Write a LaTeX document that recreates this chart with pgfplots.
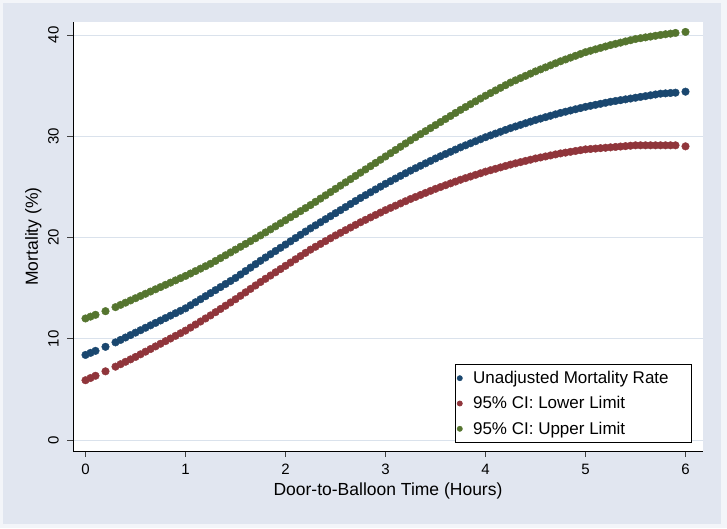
\documentclass[border=0pt]{standalone}
\usepackage{pgfplots}
\pgfplotsset{compat=1.18}
\usepackage{pgfplotstable}
\usepackage{fontspec}
\setmainfont{Liberation Sans}
\definecolor{bgc}{RGB}{225,230,240}
\definecolor{gridc}{RGB}{218,226,236}
\definecolor{snavy}{RGB}{26,71,111}
\definecolor{smaroon}{RGB}{144,53,59}
\definecolor{sgreen}{RGB}{85,117,47}
\pgfplotstableread{
x B R G
0 8.4 5.9 12.0
0.05 8.6 6.12 12.18
0.1 8.8 6.34 12.36
0.2 9.2 6.78 12.72
0.3 9.64 7.24 13.12
0.35 9.88 7.48 13.34
0.4 10.12 7.72 13.56
0.45 10.36 7.96 13.78
0.5 10.6 8.2 14.0
0.55 10.84 8.46 14.22
0.6 11.08 8.72 14.44
0.65 11.32 8.98 14.66
0.7 11.56 9.24 14.88
0.75 11.8 9.5 15.1
0.8 12.04 9.76 15.32
0.85 12.28 10.02 15.54
0.9 12.52 10.28 15.76
0.95 12.76 10.54 15.98
1.0 13.0 10.8 16.2
1.05 13.3 11.1 16.44
1.1 13.6 11.4 16.68
1.15 13.9 11.7 16.92
1.2 14.2 12.0 17.16
1.25 14.5 12.3 17.4
1.3 14.8 12.62 17.68
1.35 15.1 12.94 17.96
1.4 15.4 13.26 18.24
1.45 15.7 13.58 18.52
1.5 16.0 13.9 18.8
1.55 16.34 14.24 19.08
1.6 16.68 14.58 19.36
1.65 17.02 14.92 19.64
1.7 17.36 15.26 19.92
1.75 17.7 15.6 20.2
1.8 18.02 15.92 20.5
1.85 18.34 16.24 20.8
1.9 18.66 16.56 21.1
1.95 18.98 16.88 21.4
2.0 19.3 17.2 21.7
2.05 19.62 17.52 22.0
2.1 19.94 17.84 22.3
2.15 20.26 18.16 22.6
2.2 20.58 18.48 22.9
2.25 20.9 18.8 23.2
2.3 21.2 19.08 23.52
2.35 21.5 19.36 23.84
2.4 21.8 19.64 24.16
2.45 22.1 19.92 24.48
2.5 22.4 20.2 24.8
2.55 22.7 20.46 25.12
2.6 23.0 20.72 25.44
2.65 23.3 20.98 25.76
2.7 23.6 21.24 26.08
2.75 23.9 21.5 26.4
2.8 24.18 21.74 26.72
2.85 24.46 21.98 27.04
2.9 24.74 22.22 27.36
2.95 25.02 22.46 27.68
3.0 25.3 22.7 28.0
3.05 25.56 22.92 28.32
3.1 25.82 23.14 28.64
3.15 26.08 23.36 28.96
3.2 26.34 23.58 29.28
3.25 26.6 23.8 29.6
3.3 26.84 24.0 29.9
3.35 27.08 24.2 30.2
3.4 27.32 24.4 30.5
3.45 27.56 24.6 30.8
3.5 27.8 24.8 31.1
3.55 28.02 24.98 31.4
3.6 28.24 25.16 31.7
3.65 28.46 25.34 32.0
3.7 28.68 25.52 32.3
3.75 28.9 25.7 32.6
3.8 29.1 25.86 32.88
3.85 29.3 26.02 33.16
3.9 29.5 26.18 33.44
3.95 29.7 26.34 33.72
4.0 29.9 26.5 34.0
4.05 30.08 26.64 34.26
4.1 30.26 26.78 34.52
4.15 30.44 26.92 34.78
4.2 30.62 27.06 35.04
4.25 30.8 27.2 35.3
4.3 30.96 27.32 35.52
4.35 31.12 27.44 35.74
4.4 31.28 27.56 35.96
4.45 31.44 27.68 36.18
4.5 31.6 27.8 36.4
4.55 31.74 27.9 36.6
4.6 31.88 28.0 36.8
4.65 32.02 28.1 37.0
4.7 32.16 28.2 37.2
4.75 32.3 28.3 37.4
4.8 32.42 28.38 37.58
4.85 32.54 28.46 37.76
4.9 32.66 28.54 37.94
4.95 32.78 28.62 38.12
5.0 32.9 28.7 38.3
5.05 33.0 28.74 38.44
5.1 33.1 28.78 38.58
5.15 33.2 28.82 38.72
5.2 33.3 28.86 38.86
5.25 33.4 28.9 39.0
5.3 33.48 28.94 39.12
5.35 33.56 28.98 39.24
5.4 33.64 29.02 39.36
5.45 33.72 29.06 39.48
5.5 33.8 29.1 39.6
5.55 33.88 29.1 39.68
5.6 33.96 29.1 39.76
5.65 34.04 29.1 39.84
5.7 34.12 29.1 39.92
5.75 34.2 29.1 40.0
5.8 34.23 29.1 40.07
5.85 34.27 29.1 40.13
5.9 34.3 29.1 40.2
6.0 34.4 29.0 40.3
}\datatab
\begin{document}
\begin{tikzpicture}
\useasboundingbox (0,0) rectangle (727pt,528pt);
\fill[white!60!bgc] (0,0) rectangle (727pt,528pt);
\fill[bgc] (3pt,4pt) rectangle (721pt,525pt);
\begin{axis}[
  at={(73pt,77pt)}, anchor=south west,
  scale only axis, width=630pt, height=429pt,
  xmin=-0.125, xmax=6.175, ymin=-1.09, ymax=41.28,
  axis x line*=bottom, axis y line*=left,
  axis line style={black, line width=0.8pt, -},
  axis background/.style={fill=white},
  xtick={0,1,2,3,4,5,6}, ytick={0,10,20,30,40},
  ymajorgrids, grid style={gridc, line width=0.8pt},
  tick align=outside, major tick length=6pt,
  tick style={black!75, line width=0.7pt},
  /pgf/number format/assume math mode=true,
  ticklabel style={font=\fontsize{15}{18}\selectfont},
  yticklabel style={rotate=90, anchor=south, inner sep=2pt, yshift=6pt},
  xticklabel style={inner sep=2pt, yshift=-5pt},
  xlabel={Door-to-Balloon Time (Hours)},
  ylabel={Mortality (\%)},
  label style={font=\fontsize{17.5}{20}\selectfont},
  xlabel style={at={(0.5,0)}, anchor=north, yshift=-28pt},
  ylabel style={at={(0,0.5)}, anchor=south, yshift=28pt},
  legend style={at={(0.9825,0.0186)}, anchor=south east, draw=black, line width=0.6pt,
    fill=white, font=\fontsize{17}{20}\selectfont, row sep=7.5pt, inner xsep=1pt, inner ysep=5pt},
  legend cell align=left,
  legend image code/.code={\fill[#1] (0pt,0pt) circle (2.6pt); \path (-3pt,0pt) (11pt,0pt);},
  every axis plot/.append style={only marks, mark=*, mark size=3.8pt, mark options={draw=none}},
]
\addplot[snavy, mark options={fill=snavy, draw=none}] table[x=x,y=B] {\datatab};
\addlegendentry{Unadjusted Mortality Rate\hspace*{20pt}}
\addplot[smaroon, mark options={fill=smaroon, draw=none}] table[x=x,y=R] {\datatab};
\addlegendentry{95\% CI: Lower Limit}
\addplot[sgreen, mark options={fill=sgreen, draw=none}] table[x=x,y=G] {\datatab};
\addlegendentry{95\% CI: Upper Limit}
\end{axis}
\end{tikzpicture}
\end{document}
